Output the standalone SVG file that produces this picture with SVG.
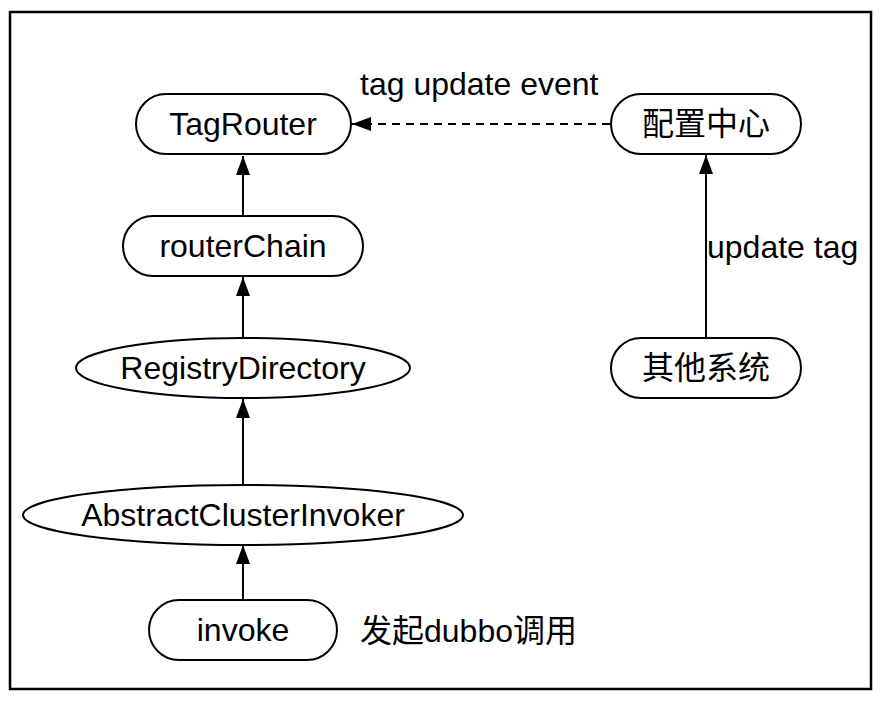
<svg xmlns="http://www.w3.org/2000/svg" width="888" height="702" viewBox="0 0 888 702">
<style>
.n{fill:#fff;stroke:#000;stroke-width:2}
.t{font-family:"Liberation Sans","Noto Sans CJK SC",sans-serif;font-size:32px;fill:#000;text-anchor:middle}
.l{font-family:"Liberation Sans","Noto Sans CJK SC",sans-serif;font-size:32px;fill:#000}
.e{fill:none;stroke:#000;stroke-width:2}
</style>
<defs>
<marker id="ah" viewBox="0 0 19 14" refX="19" refY="7" markerWidth="19" markerHeight="14" markerUnits="userSpaceOnUse" orient="auto">
<path d="M0,0 L19,7 L0,14 Z" fill="#000"/>
</marker>
</defs>
<rect x="0" y="0" width="888" height="702" fill="#fff"/>
<rect x="10" y="12" width="861" height="677" fill="none" stroke="#000" stroke-width="2.5"/>
<g id="connectors">
<line class="e" x1="243" y1="216" x2="243" y2="156" marker-end="url(#ah)"/>
<line class="e" x1="243" y1="338" x2="243" y2="277" marker-end="url(#ah)"/>
<line class="e" x1="243" y1="486" x2="243" y2="399" marker-end="url(#ah)"/>
<line class="e" x1="243" y1="600" x2="243" y2="545" marker-end="url(#ah)"/>
<line class="e" x1="706" y1="338" x2="706" y2="155" marker-end="url(#ah)"/>
<line class="e" x1="610" y1="124" x2="352" y2="124" stroke-dasharray="8,6" marker-end="url(#ah)"/>
<text class="l" x="360" y="95">tag update event</text>
<text class="l" x="707" y="258">update tag</text>
</g>
<g id="TagRouter">
<rect class="n" x="136" y="94" width="215" height="60" rx="30"/>
<text class="t" x="243" y="135">TagRouter</text>
</g>
<g id="routerChain">
<rect class="n" x="123" y="216" width="240" height="60" rx="30"/>
<text class="t" x="243" y="257">routerChain</text>
</g>
<g id="RegistryDirectory">
<ellipse class="n" cx="243" cy="368" rx="167" ry="30"/>
<text class="t" x="243" y="379">RegistryDirectory</text>
</g>
<g id="AbstractClusterInvoker">
<ellipse class="n" cx="243" cy="515" rx="220" ry="30"/>
<text class="t" x="243" y="526">AbstractClusterInvoker</text>
</g>
<g id="invoke">
<rect class="n" x="149" y="600" width="188" height="60" rx="30"/>
<text class="t" x="243" y="641">invoke</text>
</g>
<g id="config">
<rect class="n" x="611" y="94" width="190" height="60" rx="30"/>
<text class="t" x="706" y="135">配置中心</text>
</g>
<g id="other">
<rect class="n" x="611" y="338" width="190" height="60" rx="30"/>
<text class="t" x="706" y="379">其他系统</text>
</g>
<text class="l" x="360" y="642">发起dubbo调用</text>
</svg>
